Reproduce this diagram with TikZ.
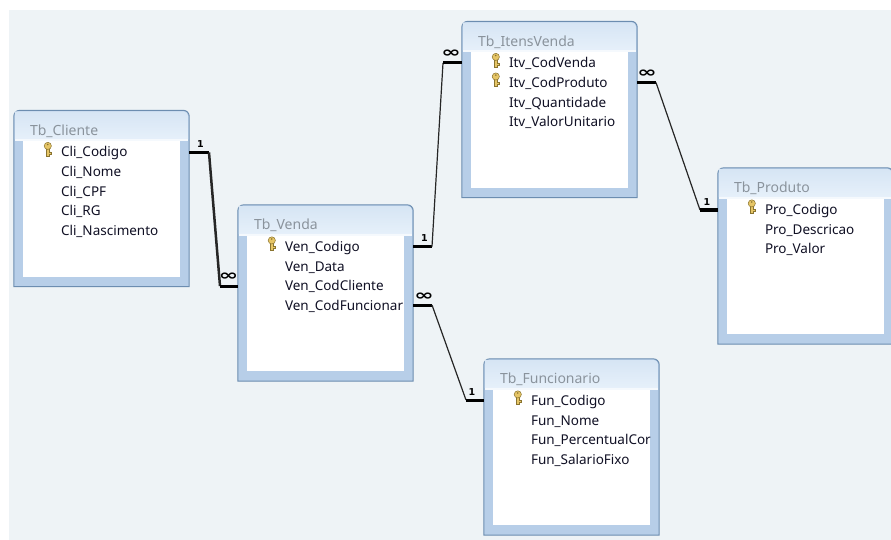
\documentclass[tikz,border=0pt]{standalone}
\usepackage{fontspec}
\setmainfont{Noto Sans}
\newfontfamily\cardfont[Scale=1]{DejaVu Sans}
\usetikzlibrary{calc}
\definecolor{panelcol}{HTML}{EEF3F6}
\definecolor{sidecol}{HTML}{B7CEE8}
\definecolor{edgecol}{HTML}{6C8DB0}
\definecolor{headtop}{HTML}{D6E5F4}
\definecolor{headlow}{HTML}{E6F0FA}
\definecolor{titlecol}{HTML}{8A939C}
\definecolor{rowcol}{HTML}{101024}
\definecolor{keycol}{HTML}{E6C566}
\definecolor{keyedge}{HTML}{8A7430}
\tikzset{
  tablebox/.style={minimum width=175pt,minimum height=176pt,inner sep=0pt},
  tableline/.style={draw=edgecol,line width=1pt},
  titletext/.style={anchor=base west,inner sep=0pt,text=titlecol,font=\fontsize{14}{16}\selectfont},
  rowtext/.style={anchor=base west,inner sep=0pt,text=rowcol,font=\fontsize{13.5}{15}\selectfont},
  relbold/.style={line width=3pt,black},
  relline/.style={line width=1.2pt,black!85},
  card/.style={inner sep=0pt,font=\cardfont\bfseries\fontsize{9.5}{9.5}\selectfont},
  cardinf/.style={inner sep=0pt,font=\cardfont\bfseries\fontsize{15}{15}\selectfont},
  keyicon/.pic={
    \draw[keyedge,fill=keycol,line width=.5pt] (-1.4,0) -- (-1.4,8) -- (1.4,8) -- (1.4,6) -- (3,6) -- (3,4) -- (1.4,4) -- (1.4,0) -- cycle;
    \draw[keyedge,fill=keycol,line width=.5pt] (0,-2) circle (3.6pt);
    \fill[keyedge] (0,-3.4) circle (.9pt);
  }
}
\newcommand{\infmark}{\scalebox{1.55}[1]{∞}}
\newcommand{\dbtable}[5]{
  \node[tablebox] (#1) at (#2,#3) {};
  \draw[tableline,fill=sidecol] (#1.south west) {[rounded corners=6pt] -- (#1.north west) -- (#1.north east)} -- (#1.south east) -- cycle;
  \shade[top color=headtop,bottom color=headlow]
     ([shift={(1,1)}]#1.north west) {[rounded corners=5pt] -- ([shift={(-1,1)}]#1.north east)} -- ([shift={(-1,29)}]#1.north east) -- ([shift={(1,29)}]#1.north west) -- cycle;
  \fill[white!60!headlow] ([shift={(1,29)}]#1.north west) rectangle ([shift={(-1,31)}]#1.north east);
  \fill[white] ([shift={(9,31)}]#1.north west) coordinate (#1NW) rectangle ([shift={(-9,-10)}]#1.south east) coordinate (#1SE);
  \node[titletext] (#1Title) at ([shift={(16,25)}]#1.north west) {#4};
  \begin{scope}
    \clip (#1NW) rectangle (#1SE);
    \foreach \row [count=\i] in {#5}
      {
        \node[rowtext] (#1\i) at ([shift={(47,{27+19.6*\i})}]#1.north west) {\row};
      }
  \end{scope}
}
\begin{document}
\begin{tikzpicture}[x=1pt,y=-1pt]
   \useasboundingbox (0,0) rectangle (891,540);
   \fill[panelcol] (9,10) rectangle (891,540);

   \dbtable{Cliente}{101.5}{198.5}{Tb\_Cliente}{Cli\_Codigo,Cli\_Nome,Cli\_CPF,Cli\_RG,Cli\_Nascimento}
   \dbtable{Venda}{325.5}{293}{Tb\_Venda}{Ven\_Codigo,Ven\_Data,Ven\_CodCliente,Ven\_CodFuncionar}
   \dbtable{Itens}{549.5}{109.5}{Tb\_ItensVenda}{Itv\_CodVenda,Itv\_CodProduto,Itv\_Quantidade,Itv\_ValorUnitario}
   \dbtable{Produto}{805.5}{256}{Tb\_Produto}{Pro\_Codigo,Pro\_Descricao,Pro\_Valor}
   \dbtable{Funcionario}{571.5}{447}{Tb\_Funcionario}{Fun\_Codigo,Fun\_Nome,Fun\_PercentualCor,Fun\_SalarioFixo}

   \foreach \t in {Cliente1,Venda1,Itens1,Itens2,Produto1,Funcionario1}
      {
        \pic at ([shift={(-13,-9)}]\t.base west) {keyicon};
      }

   \coordinate (c1) at (209,152.5);
   \coordinate (c2) at (220,286);
   \coordinate (c3) at (432,246.5);
   \coordinate (c4) at (443,63);
   \coordinate (c5) at (656,82.5);
   \coordinate (c6) at (700,210);
   \coordinate (c7) at (432,305);
   \coordinate (c8) at (466,400);

   \draw[relbold] (Cliente.east |- c1) -- (c1);
   \draw[relline,line width=2.5pt] (c1) -- (c2);
   \draw[relbold] (c2) -- (Venda.west |- c2);

   \draw[relbold] (Venda.east |- c3) -- (c3);
   \draw[relline] (c3) -- (c4);
   \draw[relbold] (c4) -- (Itens.west |- c4);

   \draw[relbold] (Itens.east |- c5) -- (c5);
   \draw[relline] (c5) -- (c6);
   \draw[relbold] (c6) -- (Produto.west |- c6);

   \draw[relbold] (Venda.east |- c7) -- (c7);
   \draw[relline] (c7) -- (c8);
   \draw[relbold] (c8) -- (Funcionario.west |- c8);

   \node[card] (n1) at (200.5,144) {1};
   \node[cardinf] (n2) at (228.5,277) {\infmark};
   \node[card] (n3) at (424.5,238) {1};
   \node[cardinf] (n4) at (451,54) {\infmark};
   \node[cardinf] (n5) at (647,74) {\infmark};
   \node[card] (n6) at (707,202) {1};
   \node[cardinf] (n7) at (424,297) {\infmark};
   \node[card] (n8) at (472,392) {1};
\end{tikzpicture}
\end{document}
